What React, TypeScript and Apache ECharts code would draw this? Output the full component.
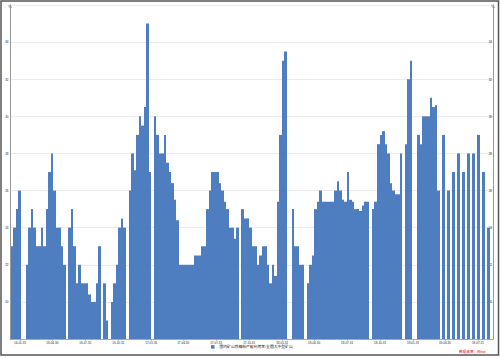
import React, { useEffect, useRef } from "react";
import * as echarts from "echarts";

// Weekly observations, first week ending 2016-01-08; null = no observation that week
const START_DATE = "2016-01-08";
const values: (number | null)[] = [
  23, 24, 25, 26, null, null, 22, 24, 25, 24,
  23, 23, 24, 23, 25, 27, 28, 26, 24, 24,
  23, 22, null, 24, 25, 23, 21, 22, 21, 21,
  21, 20.4, 20, 20, 21, 23, null, 21, 19, null,
  20, 21, 22, 24, 24.5, 24, null, 26, 28, 27.1,
  29, 30, 29.5, 30.5, 35, 27, null, 30, 29, 28,
  28, 29, 27.5, 27, 26.4, 25.5, 24.4, 22, 22, 22,
  22, 22, 22, 22.5, 22.5, 22.5, 23, 23, 25, 26,
  27, 27, 27, 26.4, 26, 25.4, 25, 24, 24, 23.4,
  24, null, 25, 24.5, 24.5, 24, 23, 23, 22, 22.5,
  23, 23, 22, 21, 22, 21.4, 25.4, 29, 33, 33.5,
  null, null, 25, 23, 23, 22, 22, null, 21, 22,
  22.5, 25, 25.4, 26, 25.4, 25.4, 25.4, 25.4, 25.4, 26,
  26.5, 26, 25.5, 25.4, 27, 25.5, 25.4, 25, 25, 24.9,
  25.2, 25.4, 25.4, null, 25, 25.4, 28.5, 29, 29.2, 28.5,
  28, 26.4, 26, 25.8, 25.8, 28, null, 28.5, 32, 33,
  null, null, 29, 28.5, 30, 30, 30, 31, 30.5, 30.6,
  26, null, 29, null, 26, null, 27, null, 28, null,
  27, null, 28, null, 28, null, 29, null, 27, null,
  24,
];

const xTickDates = [
  "2016-01-31", "2016-04-30", "2016-07-31", "2016-10-31",
  "2017-01-31", "2017-04-30", "2017-07-31", "2017-10-31",
  "2018-01-31", "2018-04-30", "2018-07-31", "2018-10-31",
  "2019-01-31", "2019-04-30", "2019-07-31",
];
const X_MIN = "2016-01-03";
const X_MAX = "2019-09-11";
const Y_MIN = 18;
const Y_MAX = 36;
const Y_STEP = 2;
const Y_UNIT = "%";
const seriesName = "国内矿山铁精粉产能利用率:全国大中型矿山";
const sourceNote = "数据来源：Wind";

function utc(s: string): number {
  const [y, m, d] = s.split("-").map(Number);
  return Date.UTC(y, m - 1, d);
}
function fmt(v: number): string {
  const d = new Date(v);
  const yy = String(d.getUTCFullYear()).slice(2);
  const mm = String(d.getUTCMonth() + 1).padStart(2, "0");
  const dd = String(d.getUTCDate()).padStart(2, "0");
  return `${yy}-${mm}-${dd}`;
}

export default function App() {
  const ref = useRef<HTMLDivElement>(null);
  useEffect(() => {
    if (!ref.current) return;
    const chart = echarts.init(ref.current, undefined, { renderer: "svg" });
    const start = utc(START_DATE);
    const week = 7 * 86400000;
    const data = values.map((v, i) => [start + i * week, v]);
    const ticks = xTickDates.map(utc);
    const font = "Liberation Sans, Arial, sans-serif";
    const barColor = "#4F7EC0";
    const yAxisBase = {
      type: "value",
      min: Y_MIN,
      max: Y_MAX,
      interval: Y_STEP,
      name: Y_UNIT,
      nameLocation: "end",
      nameGap: -3,
      nameTextStyle: { fontSize: 4, color: "#222", fontFamily: font },
      axisLine: { show: true, lineStyle: { color: "#999", width: 1 } },
      axisTick: { show: false },
      splitLine: { show: true, lineStyle: { color: "#e8e8e8", width: 0.6 } },
    };
    chart.setOption({
      animation: false,
      backgroundColor: "#ffffff",
      grid: { left: 10, right: 7, top: 5, bottom: 19, containLabel: false },
      legend: {
        data: [seriesName],
        left: 211,
        top: 345,
        padding: 0,
        itemWidth: 3.5,
        itemHeight: 3.5,
        icon: "rect",
        textStyle: { fontSize: 3.8, color: "#222", fontFamily: "Noto Sans CJK SC" },
      },
      xAxis: {
        type: "value",
        min: utc(X_MIN),
        max: utc(X_MAX),
        scale: true,
        axisLine: { show: true, onZero: false, lineStyle: { color: "#999", width: 0.8 } },
        axisTick: { show: true, customValues: ticks, length: 1.5, lineStyle: { color: "#999" } },
        splitLine: { show: false },
        axisLabel: {
          customValues: ticks,
          formatter: (v: number) => fmt(v),
          fontSize: 3,
          color: "#222",
          margin: 2,
          fontFamily: font,
        },
      },
      yAxis: [
        {
          ...yAxisBase,
          position: "left",
          axisLabel: { fontSize: 3, color: "#222", margin: 1.5, showMinLabel: false, showMaxLabel: false, fontFamily: font },
        },
        {
          ...yAxisBase,
          position: "right",
          axisLabel: { inside: true, fontSize: 3, color: "#222", margin: 1, showMinLabel: false, showMaxLabel: false, fontFamily: font },
        },
      ],
      series: [
        {
          name: seriesName,
          type: "custom",
          yAxisIndex: 0,
          data,
          encode: { x: 0, y: 1 },
          itemStyle: { color: barColor },
          renderItem: (params: any, api: any) => {
            const v = api.value(1);
            if (v === null || v === undefined || isNaN(v)) return null;
            const t = api.value(0);
            const top = api.coord([t, v]);
            const base = api.coord([t, Y_MIN]);
            const w = api.size([week, 0])[0];
            const x0 = Math.round(top[0] - w / 2);
            const x1 = Math.round(top[0] + w / 2);
            return {
              type: "rect",
              shape: { x: x0, y: top[1], width: Math.max(1, x1 - x0), height: base[1] - top[1] },
              style: { fill: barColor, stroke: null, lineWidth: 0 },
            };
          },
        },
      ],
      graphic: [
        {
          type: "text",
          left: 459,
          top: 350,
          style: { text: sourceNote, fill: "#e60000", fontSize: 3.6, fontFamily: "Noto Sans CJK SC" },
        },
        {
          type: "rect",
          silent: true,
          z: 100,
          shape: { x: 1, y: 1, width: 497.5, height: 354 },
          style: { fill: "none", stroke: "#555", lineWidth: 1.5 },
        },
      ],
    });
    return () => chart.dispose();
  }, []);
  return (
    <div
      ref={ref}
      style={{ position: "fixed", left: 0, top: 0, width: 500, height: 358, background: "#fff" }}
    />
  );
}
